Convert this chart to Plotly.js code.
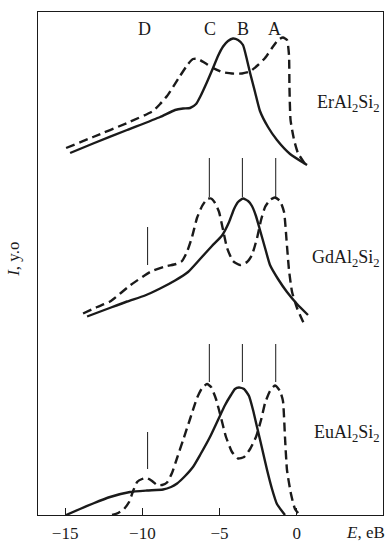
<!DOCTYPE html>
<html>
<head>
<meta charset="utf-8">
<script src="https://cdn.plot.ly/plotly-3.0.1.min.js"></script>
<style>
  html, body { margin: 0; padding: 0; background: #fff; }
  #chart { width: 388px; height: 542px; }
</style>
</head>
<body>
<div id="chart"></div>
<script>
// ---- Data (E in eV, intensity in arbitrary units, curves offset vertically) ----
const erSolidE = [-14.68,-13.19,-10.99,-8.85,-7.88,-7.36,-6.91,-6.52,-6.26,-5.81,-5.42,-5.10,-4.77,-4.45,-4.13,-3.80,-3.48,-3.22,-3.02,-2.70,-2.38,-1.86,-1.28,-0.43,0.67];
const erSolidI = [36.2,37.15,38.5,39.8,40.5,40.65,40.7,41.1,41.8,43.3,44.7,45.9,46.85,47.4,47.65,47.5,47.0,45.5,44.2,42.3,40.4,38.8,37.5,36.1,35.0];

const erDashE = [-14.94,-13.19,-10.99,-9.31,-8.85,-8.40,-8.01,-7.56,-7.04,-6.72,-6.39,-5.94,-5.42,-4.84,-4.19,-3.54,-3.02,-2.51,-2.05,-1.60,-1.21,-0.89,-0.63,-0.50,-0.47,-0.40,-0.17,0.08,0.54];
const erDashI = [36.7,37.8,39.2,40.4,41.1,41.9,42.8,43.9,45.1,45.6,45.6,45.2,44.7,44.3,44.15,44.15,44.35,45.0,45.7,46.7,47.5,47.75,47.5,46.0,42.8,39.5,37.5,36.2,35.1];

const gdSolidE = [-13.58,-12.29,-10.99,-9.83,-8.85,-7.88,-7.04,-6.26,-5.49,-4.84,-4.38,-4.06,-3.80,-3.48,-3.15,-2.90,-2.64,-2.38,-2.05,-1.73,-1.21,-0.63,0.02,0.73];
const gdSolidI = [19.85,20.6,21.35,21.95,22.65,23.45,24.3,25.6,26.9,27.95,29.3,30.6,31.3,31.65,31.4,30.9,29.9,28.5,26.7,25.0,23.6,22.3,21.1,20.0];

const gdDashE = [-13.84,-12.93,-12.09,-10.80,-9.50,-8.53,-7.82,-7.43,-7.11,-6.78,-6.46,-6.13,-5.81,-5.55,-5.29,-5.03,-4.77,-4.51,-4.13,-3.67,-3.22,-2.90,-2.57,-2.31,-2.05,-1.73,-1.41,-1.08,-0.82,-0.66,-0.50,-0.30,0.02,0.54];
const gdDashI = [20.15,20.8,21.35,22.95,24.3,24.85,25.1,25.4,26.3,27.8,29.7,30.9,31.6,31.65,31.2,30.3,28.5,26.7,25.4,25.0,25.3,26.0,27.7,29.5,30.8,31.5,31.75,31.4,30.3,27.5,24.5,22.3,20.7,18.9];

const euSolidE = [-14.94,-14.04,-13.19,-12.09,-10.80,-9.70,-8.66,-8.14,-7.75,-7.23,-6.72,-6.26,-5.62,-5.10,-4.64,-4.26,-4.00,-3.74,-3.41,-3.09,-2.83,-2.57,-2.25,-1.92,-1.60,-1.28,-0.76];
const euSolidI = [0,0.6,1.15,1.8,2.3,2.45,2.55,2.8,3.15,3.9,4.8,6.0,7.8,9.5,11.0,12.0,12.6,12.75,12.6,11.9,10.5,8.8,6.7,4.5,2.6,1.1,0];

const euDashE = [-11.96,-11.57,-11.19,-10.86,-10.60,-10.34,-10.02,-9.70,-9.37,-9.05,-8.72,-8.40,-8.08,-7.75,-7.36,-6.91,-6.46,-6.13,-5.81,-5.55,-5.23,-4.90,-4.58,-4.19,-3.80,-3.41,-3.02,-2.64,-2.31,-2.05,-1.73,-1.41,-1.08,-0.89,-0.76,-0.63,-0.37,-0.11,0.21];
const euDashI = [0,0.2,0.6,1.3,2.4,3.3,3.6,3.7,3.4,3.0,3.0,3.25,4.2,5.7,7.5,9.6,11.7,12.7,13.1,12.8,11.6,9.7,7.8,6.3,5.65,5.8,6.6,7.8,9.5,11.2,12.4,12.95,12.4,11.4,7.8,4.5,2.1,0.6,0];

// Peak marker lines (D, C, B, A)
const peakLabels = ['D','C','B','A'];
const peakLabelE = [-9.83,-5.62,-3.48,-1.41];
const gdMarkE = [-9.66,-5.66,-3.52,-1.36];
const gdMarkTop = [28.8,35.7,35.7,35.7];
const gdMarkBot = [25.0,31.8,31.8,31.8];
const euMarkE = [-9.66,-5.66,-3.52,-1.36];
const euMarkTop = [8.3,17.1,17.1,17.1];
const euMarkBot = [4.6,13.3,13.3,13.3];

const compounds = ['ErAl<sub>2</sub>Si<sub>2</sub>','GdAl<sub>2</sub>Si<sub>2</sub>','EuAl<sub>2</sub>Si<sub>2</sub>'];
const compoundLabelI = [41.2,25.7,8.2];

const xTicks = [-15,-10,-5,0];

// ---- Build traces ----
const ink = '#1a1a1a';
const FONT = 'Liberation Serif, DejaVu Serif, serif';
const solidLine = {color: ink, width: 2.4, shape: 'spline', smoothing: 0.5};
const dashLine = {color: ink, width: 2.4, dash: '9px,5px', shape: 'spline', smoothing: 0.5};

function curve(x, y, line) {
  return {type: 'scatter', mode: 'lines', x: x, y: y, line: line, hoverinfo: 'skip', showlegend: false};
}
function markers(xs, tops, bots) {
  const x = [], y = [];
  xs.forEach((e, i) => { x.push(e, e, null); y.push(tops[i], bots[i], null); });
  return {type: 'scatter', mode: 'lines', x: x, y: y, line: {color: ink, width: 1}, hoverinfo: 'skip', showlegend: false};
}

const traces = [
  curve(erSolidE, erSolidI, solidLine),
  curve(erDashE, erDashI, dashLine),
  curve(gdSolidE, gdSolidI, solidLine),
  curve(gdDashE, gdDashI, dashLine),
  curve(euSolidE, euSolidI, solidLine),
  curve(euDashE, euDashI, dashLine),
  markers(gdMarkE, gdMarkTop, gdMarkBot),
  markers(euMarkE, euMarkTop, euMarkBot)
];

const annotations = [];
peakLabels.forEach((t, i) => annotations.push({
  x: peakLabelE[i], y: 48.6, xref: 'x', yref: 'y', text: t, showarrow: false,
  xanchor: 'center', yanchor: 'middle', font: {family: FONT, size: 18, color: ink}
}));
compounds.forEach((t, i) => annotations.push({
  x: 5.5, y: compoundLabelI[i], xref: 'x', yref: 'y', text: t, showarrow: false,
  xanchor: 'right', yanchor: 'middle', font: {family: FONT, size: 18, color: ink}
}));
annotations.push({
  x: 1.013, y: -0.034, xref: 'paper', yref: 'paper', text: '<i>E</i>, eB', showarrow: false,
  xanchor: 'right', yanchor: 'middle', font: {family: FONT, size: 17, color: ink}
});
annotations.push({
  x: -0.07, y: 0.509, xref: 'paper', yref: 'paper', text: '<i>I</i>, y.o', showarrow: false,
  textangle: -90, xanchor: 'center', yanchor: 'middle', font: {family: FONT, size: 17, color: ink}
});

const layout = {
  width: 388, height: 542,
  margin: {l: 38, r: 5, t: 12, b: 27, pad: 0},
  paper_bgcolor: '#fff', plot_bgcolor: '#fff',
  showlegend: false,
  xaxis: {
    range: [-16.76, 5.59], tickvals: xTicks, ticktext: xTicks.map(v => v < 0 ? '\u2212' + Math.abs(v) : String(v)),
    ticks: 'inside', ticklen: 7, tickwidth: 1, tickcolor: ink,
    showline: true, linecolor: ink, linewidth: 1.2, mirror: true,
    showgrid: false, zeroline: false, ticklabelstandoff: 2,
    tickfont: {family: FONT, size: 17, color: ink}
  },
  yaxis: {
    range: [0, 50.3], showticklabels: false, ticks: '',
    showline: true, linecolor: ink, linewidth: 1.2, mirror: true,
    showgrid: false, zeroline: false
  },
  annotations: annotations
};

Plotly.newPlot('chart', traces, layout, {displayModeBar: false, staticPlot: true});
</script>
</body>
</html>
